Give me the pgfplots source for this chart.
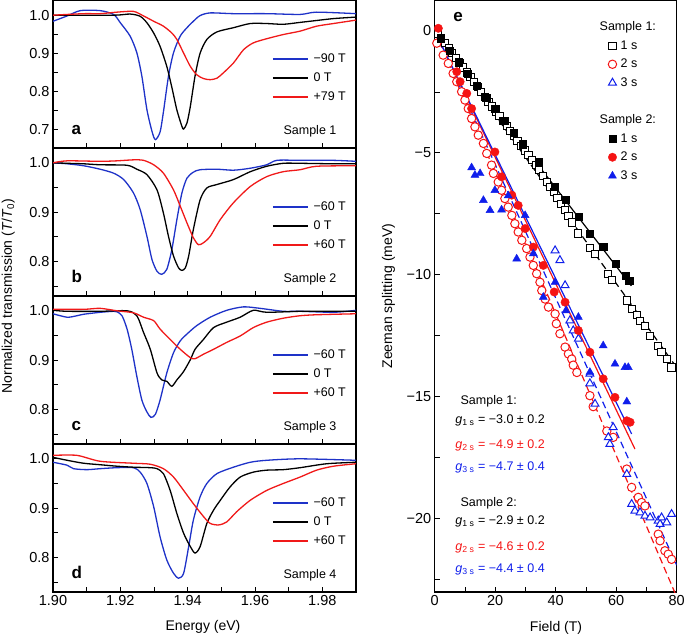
\documentclass[border=0pt]{standalone}
\usepackage{fontspec}
\setmainfont{Liberation Sans}
\usepackage{pgfplots}
\pgfplotsset{compat=1.18}

\definecolor{cblue}{RGB}{30,50,200}
\definecolor{cred}{RGB}{240,25,25}
\definecolor{eblue}{RGB}{15,30,235}
\definecolor{ered}{RGB}{245,20,20}

\pgfplotsset{
  base/.style={
    scale only axis, tick align=inside,
    xtick pos=left, ytick pos=left,
    major tick length=5pt,
    tick style={black, line width=0.9pt},
    axis line style={line width=1.2pt},
    ticklabel style={font=\fontsize{14.5}{16}\selectfont},
    /pgf/number format/assume math mode=true,
    legend cell align=left,
  },
  spec/.style={
    base, width=303pt, height=148pt,
    xmin=1.90, xmax=1.99, ymin=0.73, ymax=1.03,
    xtick={1.90,1.91,1.92,1.93,1.94,1.95,1.96,1.97,1.98},
    xticklabels=\empty,
    ytick={0.75,0.80,0.85,0.90,0.95,1.00},
    yticklabels={,0.8,,0.9,,1.0},
    legend style={at={(0.713,0.473)}, anchor=west, draw=none, fill=none,
      font=\fontsize{12.5}{14}\selectfont,
      nodes={inner sep=1pt, text height=9pt, text depth=2pt},
      row sep=6pt, column sep=4pt},
    legend image code/.code={\draw[##1] (0pt,0pt) -- (35pt,0pt);},
  },
  cv/.style={line width=1.3pt, smooth, tension=0.45},
  emark/.style={only marks, mark size=3.8pt,
    legend image code/.code={\draw[##1] plot coordinates {(0pt,0pt)};}},
  fitline/.style={line width=1.2pt, forget plot},
  dash/.style={dash pattern=on 7pt off 4pt},
}

\newcommand{\tagfont}{\bfseries\fontsize{17}{17}\selectfont}
\newcommand{\smallfont}{\fontsize{12.5}{14}\selectfont}
\newcommand{\labfont}{\fontsize{14}{16}\selectfont}

\begin{document}
\begin{tikzpicture}
\useasboundingbox (0pt,-635pt) rectangle (685pt,0pt);

% ---------- panel a ----------
\begin{axis}[spec, at={(53pt,0pt)}, anchor=north west,
  ymin=0.65, ymax=1.04,
  ytick={0.70,0.75,0.80,0.85,0.90,0.95,1.00},
  yticklabels={0.7,,0.8,,0.9,,1.0}]
\addplot[cv, cblue] coordinates {
(1.9000,0.984) (1.9042,0.998) (1.9081,1.012) (1.9140,1.012) (1.9180,1.002)
(1.9200,0.980) (1.9229,0.945) (1.9249,0.901) (1.9264,0.839) (1.9279,0.751)
(1.9294,0.694) (1.9304,0.672) (1.9318,0.692) (1.9328,0.745) (1.9343,0.839)
(1.9358,0.901) (1.9378,0.945) (1.9398,0.967) (1.9417,0.984) (1.9437,0.999)
(1.9467,1.006) (1.9536,1.004) (1.9635,1.004) (1.9734,1.002) (1.9783,1.008)
(1.9900,1.004)};
\addlegendentry{−90 T}
\addplot[cv, black] coordinates {
(1.9000,1.000) (1.9180,1.000) (1.9229,1.003) (1.9259,0.997) (1.9279,0.980)
(1.9299,0.953) (1.9318,0.918) (1.9338,0.865) (1.9353,0.810) (1.9368,0.750)
(1.9383,0.707) (1.9388,0.700) (1.9398,0.716) (1.9408,0.760) (1.9422,0.840)
(1.9437,0.900) (1.9457,0.936) (1.9487,0.956) (1.9536,0.967) (1.9586,0.978)
(1.9635,0.978) (1.9684,0.976) (1.9734,0.981) (1.9783,0.986) (1.9833,0.991)
(1.9900,0.995)};
\addlegendentry{0 T}
\addplot[cv, cred] coordinates {
(1.9000,1.000) (1.9091,1.004) (1.9140,1.004) (1.9190,1.008) (1.9239,1.010)
(1.9269,0.998) (1.9299,0.984) (1.9328,0.971) (1.9353,0.953) (1.9368,0.936)
(1.9388,0.900) (1.9408,0.865) (1.9427,0.843) (1.9447,0.833) (1.9467,0.830)
(1.9487,0.834) (1.9506,0.848) (1.9536,0.874) (1.9566,0.909) (1.9595,0.927)
(1.9635,0.938) (1.9684,0.949) (1.9734,0.958) (1.9783,0.971) (1.9833,0.978)
(1.9900,0.987)};
\addlegendentry{+79 T}
\node[anchor=base west, font=\tagfont] at (rel axis cs:0.05,0.088) {a};
\node[anchor=base east, font=\smallfont] at (rel axis cs:0.947,0.088) {Sample 1};
\end{axis}

% ---------- panel b ----------
\begin{axis}[spec, at={(53pt,-148pt)}, anchor=north west]
\addplot[cv, cblue] coordinates {
(1.9000,1.000) (1.9042,0.998) (1.9091,0.994) (1.9140,0.987) (1.9180,0.979)
(1.9210,0.966) (1.9239,0.939) (1.9259,0.905) (1.9279,0.851) (1.9294,0.804)
(1.9309,0.780) (1.9323,0.774) (1.9338,0.784) (1.9353,0.824) (1.9368,0.885)
(1.9383,0.939) (1.9398,0.969) (1.9417,0.981) (1.9437,0.986) (1.9487,0.987)
(1.9536,0.985) (1.9586,0.989) (1.9635,0.996) (1.9665,1.005) (1.9734,1.005)
(1.9833,1.005) (1.9900,1.003)};
\addlegendentry{−60 T}
\addplot[cv, black] coordinates {
(1.9000,1.000) (1.9042,0.999) (1.9091,0.998) (1.9140,0.996) (1.9220,0.995)
(1.9249,0.987) (1.9279,0.976) (1.9309,0.945) (1.9328,0.898) (1.9343,0.851)
(1.9358,0.811) (1.9373,0.787) (1.9383,0.782) (1.9393,0.787) (1.9403,0.811)
(1.9417,0.865) (1.9437,0.925) (1.9457,0.949) (1.9487,0.956) (1.9536,0.966)
(1.9586,0.982) (1.9635,0.993) (1.9684,0.999) (1.9734,0.999) (1.9833,0.998)
(1.9900,0.998)};
\addlegendentry{0 T}
\addplot[cv, cred] coordinates {
(1.9000,1.000) (1.9042,1.004) (1.9140,1.003) (1.9190,1.004) (1.9239,1.006)
(1.9269,1.005) (1.9299,0.996) (1.9328,0.979) (1.9358,0.945) (1.9378,0.912)
(1.9398,0.878) (1.9417,0.848) (1.9432,0.834) (1.9447,0.838) (1.9467,0.851)
(1.9497,0.885) (1.9536,0.919) (1.9586,0.952) (1.9635,0.972) (1.9684,0.982)
(1.9734,0.986) (1.9783,0.993) (1.9900,0.994)};
\addlegendentry{+60 T}
\node[anchor=base west, font=\tagfont] at (rel axis cs:0.05,0.088) {b};
\node[anchor=base east, font=\smallfont] at (rel axis cs:0.947,0.088) {Sample 2};
\end{axis}

% ---------- panel c ----------
\begin{axis}[spec, at={(53pt,-296pt)}, anchor=north west]
\addplot[cv, cblue] coordinates {
(1.9000,0.994) (1.9042,0.987) (1.9071,0.990) (1.9091,0.993) (1.9140,0.997)
(1.9180,0.999) (1.9190,0.998) (1.9205,0.990) (1.9220,0.963) (1.9234,0.922)
(1.9249,0.867) (1.9264,0.819) (1.9279,0.795) (1.9291,0.784) (1.9304,0.790)
(1.9318,0.819) (1.9338,0.874) (1.9358,0.915) (1.9378,0.939) (1.9398,0.953)
(1.9427,0.970) (1.9467,0.987) (1.9516,1.001) (1.9566,1.008) (1.9615,1.005)
(1.9684,0.999) (1.9734,0.999) (1.9833,0.997) (1.9900,1.001)};
\addlegendentry{−60 T}
\addplot[cv, black] coordinates {
(1.9000,1.001) (1.9042,0.999) (1.9140,0.999) (1.9220,1.000) (1.9249,0.990)
(1.9269,0.956) (1.9289,0.922) (1.9309,0.874) (1.9323,0.860) (1.9338,0.857)
(1.9353,0.847) (1.9368,0.860) (1.9388,0.877) (1.9408,0.901) (1.9422,0.922)
(1.9447,0.942) (1.9477,0.966) (1.9516,0.977) (1.9556,0.987) (1.9595,1.001)
(1.9635,0.997) (1.9734,0.999) (1.9833,0.999) (1.9900,0.999)};
\addlegendentry{0 T}
\addplot[cv, cred] coordinates {
(1.9000,1.003) (1.9091,1.003) (1.9140,1.005) (1.9190,1.000) (1.9239,0.996)
(1.9269,0.987) (1.9299,0.980) (1.9318,0.963) (1.9348,0.942) (1.9378,0.922)
(1.9408,0.905) (1.9422,0.903) (1.9447,0.912) (1.9477,0.922) (1.9516,0.936)
(1.9556,0.949) (1.9595,0.966) (1.9635,0.977) (1.9684,0.985) (1.9734,0.990)
(1.9783,0.992) (1.9900,0.994)};
\addlegendentry{+60 T}
\node[anchor=base west, font=\tagfont] at (rel axis cs:0.05,0.088) {c};
\node[anchor=base east, font=\smallfont] at (rel axis cs:0.947,0.088) {Sample 3};
\end{axis}

% ---------- panel d ----------
\begin{axis}[spec, at={(53pt,-444pt)}, anchor=north west,
  xticklabels={1.90,,1.92,,1.94,,1.96,,1.98}]
\addplot[cv, cblue] coordinates {
(1.9000,0.993) (1.9042,0.987) (1.9061,0.980) (1.9101,0.978) (1.9140,0.980)
(1.9190,0.982) (1.9239,0.982) (1.9259,0.973) (1.9279,0.950) (1.9299,0.903)
(1.9318,0.842) (1.9338,0.795) (1.9358,0.768) (1.9373,0.758) (1.9388,0.768)
(1.9403,0.822) (1.9417,0.876) (1.9437,0.923) (1.9457,0.950) (1.9487,0.970)
(1.9536,0.983) (1.9586,0.993) (1.9635,0.997) (1.9734,1.000) (1.9900,0.997)};
\addlegendentry{−60 T}
\addplot[cv, black] coordinates {
(1.9000,1.003) (1.9042,0.997) (1.9091,0.991) (1.9140,0.988) (1.9190,0.985)
(1.9239,0.983) (1.9289,0.982) (1.9309,0.980) (1.9328,0.970) (1.9348,0.936)
(1.9368,0.889) (1.9388,0.849) (1.9408,0.822) (1.9422,0.809) (1.9437,0.822)
(1.9457,0.869) (1.9477,0.896) (1.9497,0.916) (1.9526,0.943) (1.9556,0.963)
(1.9595,0.973) (1.9635,0.977) (1.9684,0.978) (1.9734,0.982) (1.9813,0.990)
(1.9900,0.993)};
\addlegendentry{0 T}
\addplot[cv, cred] coordinates {
(1.9000,1.007) (1.9071,1.007) (1.9140,0.995) (1.9239,0.991) (1.9289,0.989)
(1.9328,0.980) (1.9358,0.963) (1.9388,0.936) (1.9417,0.909) (1.9447,0.883)
(1.9467,0.869) (1.9492,0.866) (1.9516,0.872) (1.9546,0.893) (1.9586,0.916)
(1.9635,0.936) (1.9684,0.950) (1.9734,0.963) (1.9783,0.977) (1.9833,0.985)
(1.9900,0.990)};
\addlegendentry{+60 T}
\node[anchor=base west, font=\tagfont] at (rel axis cs:0.05,0.088) {d};
\node[anchor=base east, font=\smallfont] at (rel axis cs:0.947,0.088) {Sample 4};
\end{axis}

% ---------- panel e ----------
\begin{axis}[base, at={(434.7pt,0pt)}, anchor=north west,
  width=242pt, height=592pt,
  xmin=0, xmax=80, ymin=-23, ymax=1.27,
  xtick={0,10,...,80}, xticklabels={0,,20,,40,,60,,80},
  ytick={-22.5,-20,-17.5,-15,-12.5,-10,-7.5,-5,-2.5,0},
  yticklabels={,−20,,−15,,−10,,−5,,0},
  legend style={at={(0.704,0.969)}, anchor=north west, draw=none, fill=none,
    font=\fontsize{12.5}{14}\selectfont,
    nodes={inner sep=1pt, text height=9pt, text depth=2pt},
    row sep=5.6pt, column sep=3pt}]
\addlegendimage{empty legend}
\addlegendentry{\hspace*{-21pt}Sample 1:}
% Sample 1, 1s
\addplot[emark, black, mark=square*, mark size=3.6pt, mark options={fill=white, line width=1pt}] coordinates {
(1.0,-0.1) (2.2,-0.3) (3.4,-0.5) (4.6,-0.7) (5.8,-0.9) (7.0,-1.1) (8.2,-1.3)
(9.4,-1.5) (10.6,-1.7) (11.8,-1.9) (13.0,-2.1) (14.2,-2.3) (15.4,-2.5)
(16.6,-2.7) (17.8,-2.9) (19.0,-3.1) (20.2,-3.3) (21.4,-3.5) (22.6,-3.7)
(23.8,-3.9) (25.0,-4.1) (26.2,-4.3) (27.4,-4.5) (28.6,-4.7) (29.8,-4.9)
(31.0,-5.1) (32.2,-5.3) (33.4,-5.5) (34.6,-5.7) (35.8,-5.95) (37.0,-6.2)
(38.2,-6.4) (39.4,-6.6) (40.6,-6.85) (41.8,-7.1) (43.0,-7.35) (44.2,-7.6)
(45.4,-7.85) (47.5,-8.3) (51.3,-8.9) (53.0,-9.15) (57.4,-9.95) (58.5,-10.2)
(63.7,-11.05) (65.1,-11.4) (66.8,-11.65) (67.9,-11.9) (69.5,-12.1)
(71.2,-12.5) (73.9,-12.9) (75.0,-13.15) (76.7,-13.45) (78.3,-13.8)};
\addlegendentry{1 s}
% Sample 1, 2s
\addplot[emark, ered, mark=*, mark size=4.2pt, mark options={fill=white, line width=1pt}] coordinates {
(0.7,-0.5) (2.8,-0.99) (4.5,-1.33) (6.1,-1.74) (7.3,-2.08) (8.9,-2.49)
(10.0,-2.83) (11.1,-3.18) (12.2,-3.59) (13.3,-3.93) (14.4,-4.27) (16.1,-4.61)
(17.2,-5.02) (18.8,-5.5) (19.4,-5.84) (21.0,-6.19) (22.1,-6.53) (23.2,-6.87)
(24.3,-7.22) (25.5,-7.56) (26.5,-7.9) (27.6,-8.24) (28.8,-8.58) (30.4,-8.92)
(31.5,-9.27) (32.6,-9.61) (33.7,-9.95) (34.8,-10.3) (35.4,-10.64)
(36.5,-10.99) (37.6,-11.32) (39.8,-11.6) (40.2,-12.0) (41.4,-12.41)
(43.1,-12.96) (44.2,-13.24) (45.3,-13.45) (45.8,-13.7) (47.0,-14.0)
(51.3,-14.95) (52.4,-15.4) (56.9,-16.4) (59.0,-16.66) (63.5,-17.96)
(65.1,-18.71) (67.3,-19.12) (68.4,-19.33) (69.5,-19.47) (73.9,-20.63)
(74.5,-20.9) (76.1,-21.31) (77.2,-21.45) (78.3,-21.66)};
\addlegendentry{2 s}
% Sample 1, 3s
\addplot[emark, eblue, mark=triangle*, mark size=4.6pt, mark options={fill=white, line width=1pt}] coordinates {
(39.8,-9.0) (41.4,-9.4) (43.1,-10.43) (44.7,-11.87) (45.8,-12.28)
(47.5,-12.62) (51.3,-14.06) (51.3,-14.45) (53.0,-15.29) (57.4,-16.66)
(57.9,-16.94) (59.0,-16.25) (63.5,-18.17) (65.1,-19.4) (66.2,-19.67)
(67.9,-19.74) (69.5,-19.88) (71.2,-19.95) (73.9,-20.08) (74.5,-20.22)
(75.0,-19.95) (76.7,-20.15) (78.3,-19.81)};
\addlegendentry{3 s}
\addlegendimage{empty legend}
\addlegendentry{}
\addlegendimage{empty legend}
\addlegendentry{\hspace*{-21pt}Sample 2:}
% Sample 2, 1s
\addplot[emark, black, mark=square*, mark size=3.6pt, mark options={fill=black}] coordinates {
(2,-0.32) (5,-0.8) (8,-1.28) (11,-1.76) (14,-2.24) (17,-2.72) (20,-3.2)
(23,-3.68) (26,-4.16) (29,-4.64) (34.5,-5.35) (39.8,-6.39)
(43.4,-6.91) (47.5,-7.63) (51.3,-8.31) (55.7,-8.86) (59.9,-9.55)
(63.2,-10.02) (64.3,-10.23)};
\addlegendentry{1 s}
% Sample 2, 2s
\addplot[emark, ered, mark=*, mark size=4.2pt, mark options={fill=ered}] coordinates {
(1.2,0.11) (7.3,-1.67) (8.4,-2.08) (10.6,-2.56) (12.2,-3.18) (19.9,-4.96)
(22.1,-5.98) (25.5,-6.73) (27.6,-7.15) (29.9,-8.1) (32.6,-8.86)
(35.9,-9.61) (39.5,-10.7) (43.1,-11.12) (47.5,-12.28) (51.3,-13.17)
(55.7,-14.26) (59.6,-15.02) (63.5,-15.98) (64.6,-16.04)};
\addlegendentry{2 s}
% Sample 2, 3s
\addplot[emark, eblue, mark=triangle*, mark size=4.6pt, mark options={fill=eblue}] coordinates {
(12.2,-5.6) (13.3,-5.91) (15.0,-5.84) (16.1,-6.94) (18.3,-7.35) (19.9,-6.53)
(22.1,-7.33) (24.3,-6.75) (27.1,-9.34) (29.9,-7.56) (32.6,-9.13)
(35.9,-10.91) (39.8,-10.3) (43.4,-11.46) (47.5,-11.73) (51.3,-13.99)
(55.7,-12.9) (59.6,-13.65) (62.9,-13.79) (64.0,-13.79) (63.5,-15.2)};
\addlegendentry{3 s}
% linear fits
\addplot[fitline, black, dash] coordinates {(0,0) (80,-13.8)};
\addplot[fitline, black] coordinates {(0,0) (65,-10.45)};
\addplot[fitline, ered, dash] coordinates {(0,0) (80,-23.2)};
\addplot[fitline, eblue, dash] coordinates {(0,0) (80,-21.9)};
\addplot[fitline, ered] coordinates {(0,0) (66.2,-17.14)};
\addplot[fitline, eblue] coordinates {(0,0) (65.1,-16.52)};
\node[anchor=base west, font=\tagfont] at (rel axis cs:0.063,0.963) {e};
\node[anchor=base west, font=\smallfont] at (axis cs:7.4,-15.3) {Sample 1:};
\node[anchor=base west, font=\smallfont] at (axis cs:5.7,-16.1) {\textit{g}\textsubscript{1 s} = −3.0 ± 0.2};
\node[anchor=base west, font=\smallfont, text=ered] at (axis cs:5.7,-17.1) {\textit{g}\textsubscript{2 s} = −4.9 ± 0.2};
\node[anchor=base west, font=\smallfont, text=eblue] at (axis cs:5.7,-18.0) {\textit{g}\textsubscript{3 s} = −4.7 ± 0.4};
\node[anchor=base west, font=\smallfont] at (axis cs:7.4,-19.5) {Sample 2:};
\node[anchor=base west, font=\smallfont] at (axis cs:5.7,-20.25) {\textit{g}\textsubscript{1 s} = −2.9 ± 0.2};
\node[anchor=base west, font=\smallfont, text=ered] at (axis cs:5.7,-21.28) {\textit{g}\textsubscript{2 s} = −4.6 ± 0.2};
\node[anchor=base west, font=\smallfont, text=eblue] at (axis cs:5.7,-22.22) {\textit{g}\textsubscript{3 s} = −4.4 ± 0.4};
\end{axis}

% ---------- shared labels ----------
\node[rotate=90, anchor=base, font=\labfont] at (12pt,-296pt)
  {Normalized transmission (\textit{T}/\textit{T}\textsubscript{0})};
\node[anchor=base, font=\labfont] at (203pt,-630pt) {Energy (eV)};
\node[rotate=90, anchor=base, font=\labfont] at (392pt,-296pt) {Zeeman splitting (meV)};
\node[anchor=base, font=\labfont] at (556pt,-631pt) {Field (T)};
\end{tikzpicture}
\end{document}
